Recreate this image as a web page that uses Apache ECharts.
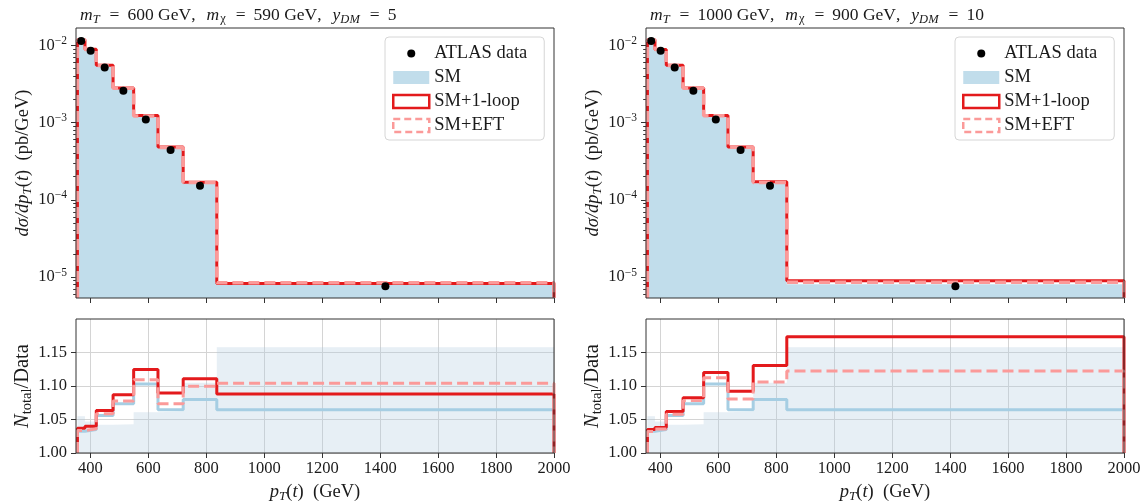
<!DOCTYPE html>
<html><head><meta charset="utf-8">
<script src="https://cdn.jsdelivr.net/npm/echarts@6/dist/echarts.min.js"></script>
<style>html,body{margin:0;padding:0;background:#fff}#c{width:1144px;height:504px}</style>
</head><body><div id="c"></div>
<script>
// ---------------- data ----------------
const binEdges = [355, 381, 420, 478, 549, 633, 720, 836, 2000];
const atlasData = [0.0114, 0.00854, 0.00519, 0.00259, 0.00110, 0.000443, 0.000152, 7.6e-6];
const smPred    = [0.01177, 0.008839, 0.005481, 0.002780, 0.001213, 0.0004716, 0.0001642, 8.09e-6];
const loopPredL = [0.01182, 0.008882, 0.005520, 0.002815, 0.001237, 0.0004826, 0.0001689, 8.27e-6];
const eftPredL  = [0.01178, 0.008847, 0.005494, 0.002791, 0.001220, 0.0004756, 0.0001671, 8.40e-6];
const loopPredR = [0.01180, 0.008865, 0.005512, 0.002804, 0.001232, 0.0004838, 0.0001718, 8.92e-6];
const eftPredR  = [0.01176, 0.008847, 0.005491, 0.002793, 0.001224, 0.0004787, 0.0001681, 8.54e-6];
const smRatio    = [1.0325, 1.035, 1.056, 1.0735, 1.103, 1.0645, 1.080, 1.0645];
const loopRatioL = [1.037, 1.040, 1.0635, 1.087, 1.1245, 1.0895, 1.111, 1.088];
const eftRatioL  = [1.0335, 1.036, 1.0585, 1.0775, 1.1095, 1.0735, 1.0995, 1.104];
const loopRatioR = [1.035, 1.038, 1.062, 1.0825, 1.120, 1.092, 1.1305, 1.1735];
const eftRatioR  = [1.032, 1.036, 1.058, 1.0785, 1.1125, 1.0805, 1.106, 1.1225];
const dataErrUpper = [1.055, 1.047, 1.042, 1.043, 1.061, 1.062, 1.105, 1.158];
const xTicks = [400, 600, 800, 1000, 1200, 1400, 1600, 1800, 2000];
const yMajorTicks = [1e-5, 1e-4, 1e-3, 1e-2];
const yMinorTicks = [6e-6, 7e-6, 8e-6, 9e-6,
  2e-5, 3e-5, 4e-5, 5e-5, 6e-5, 7e-5, 8e-5, 9e-5,
  2e-4, 3e-4, 4e-4, 5e-4, 6e-4, 7e-4, 8e-4, 9e-4,
  2e-3, 3e-3, 4e-3, 5e-3, 6e-3, 7e-3, 8e-3, 9e-3];
const ratioTicks = [1.00, 1.05, 1.10, 1.15];
const panelTitles = [
  '{i|m}{si|T}{e|=}{r|600 GeV}{c|,}{i|m}{sg|χ}{e|=}{r|590 GeV}{c|,}{i|y}{si|DM}{e|=}{r|5}',
  '{i|m}{si|T}{e|=}{r|1000 GeV}{c|,}{i|m}{sg|χ}{e|=}{r|900 GeV}{c|,}{i|y}{si|DM}{e|=}{r|10}'
];
const legendNames = ['ATLAS data', 'SM', 'SM+1-loop', 'SM+EFT'];

// ---------------- style ----------------
const FONT = "'Liberation Serif','DejaVu Serif',serif";
const TXT = '#1a1a1a', FRAME = '#333';
const RED = '#e31a1c', PINK = '#fb9a99', BLUE = '#a6cee3';
const SM_FILL = 'rgba(166,206,227,0.7)', BAND = 'rgba(175,203,222,0.3)';
const Y_LOG_MIN = 5.35e-6, Y_LOG_MAX = 0.0168, X_MIN = 350, X_MAX = 2000;
const FS = 16.5, FL = 18.5, FT = 17.5;

function txt(size, extra) {
  return Object.assign({fontFamily: FONT, fontSize: size, fontWeight: 'normal', color: TXT}, extra || {});
}
const rich = {
  i: txt(FL, {fontStyle: 'italic'}),
  r: txt(FL),
  si: txt(13, {fontStyle: 'italic', padding: [8, 0, 0, 0]}),
  sr: txt(13, {padding: [8, 0, 0, 0]}),
  b: txt(FS),
  s: txt(11.5, {padding: [0, 0, 9, 0]})
};
const richRatio = {
  i: txt(20.5, {fontStyle: 'italic'}),
  r: txt(20.5),
  sr: txt(14.5, {padding: [9, 0, 0, 0]})
};
const richTitle = {
  i: txt(FT, {fontStyle: 'italic'}),
  r: txt(FT),
  e: txt(FT, {padding: [0, 8, 0, 10]}),
  c: txt(FT, {padding: [0, 11, 0, 0]}),
  si: txt(12.5, {fontStyle: 'italic', padding: [8, 0, 0, 0]}),
  sg: txt(12.5, {padding: [7, 0, 0, 1]})
};

function stairs(vals, base) {
  const pts = [];
  const n = vals.length;
  if (base !== undefined) pts.push([binEdges[0], base]);
  for (let i = 0; i < n; i++) {
    pts.push([binEdges[i], vals[i]]);
    pts.push([binEdges[i + 1], vals[i]]);
  }
  if (base !== undefined) pts.push([binEdges[n], base]);
  return pts;
}
function centers(vals) {
  return vals.map((v, i) => [(binEdges[i] + binEdges[i + 1]) / 2, v]);
}

const grids = [], xAxes = [], yAxes = [], series = [], legends = [], titles = [];
const cols = [
  {left: 76, loop: loopPredL, eft: eftPredL, loopR: loopRatioL, eftR: eftRatioL},
  {left: 646, loop: loopPredR, eft: eftPredR, loopR: loopRatioR, eftR: eftRatioR}
];

cols.forEach((c, k) => {
  const gTop = grids.length;
  grids.push({left: c.left, top: 28, width: 478, height: 270, show: true, borderColor: FRAME, borderWidth: 1, backgroundColor: 'transparent', z: 10});
  grids.push({left: c.left, top: 319, width: 478, height: 135, show: true, borderColor: FRAME, borderWidth: 1, backgroundColor: 'transparent', z: 10});
  const gBot = gTop + 1;

  const xTop = xAxes.length;
  xAxes.push({gridIndex: gTop, type: 'value', min: X_MIN, max: X_MAX, position: 'bottom',
    axisLine: {show: false}, splitLine: {show: false},
    axisTick: {show: true, customValues: xTicks, length: 5, lineStyle: {color: FRAME}},
    axisLabel: {show: false}});
  const xBot = xAxes.length;
  xAxes.push({gridIndex: gBot, type: 'value', min: X_MIN, max: X_MAX, splitNumber: 8, position: 'bottom',
    axisLine: {show: false},
    splitLine: {show: true, lineStyle: {color: '#d4d4d4', width: 1}},
    axisTick: {show: true, customValues: xTicks, length: 5, lineStyle: {color: FRAME}},
    axisLabel: {customValues: xTicks, margin: 7, fontFamily: FONT, fontSize: FS, color: TXT,
      formatter: v => String(v)},
    name: '{i|p}{si|T}{r|(}{i|t}{r|)  (GeV)}', nameLocation: 'middle', nameGap: 29,
    nameTextStyle: {rich: rich}});

  const yTop = yAxes.length;
  yAxes.push({gridIndex: gTop, type: 'log', logBase: 10, min: Y_LOG_MIN, max: Y_LOG_MAX, position: 'left',
    axisLine: {show: false}, splitLine: {show: false}, minorTick: {show: false},
    axisTick: {show: true, customValues: yMajorTicks, length: 5, lineStyle: {color: FRAME}},
    axisLabel: {customValues: yMajorTicks, margin: 9,
      formatter: v => '{b|10}{s|−' + Math.round(-Math.log10(v)) + '}', rich: rich},
    name: '{i|dσ/dp}{si|T}{r|(}{i|t}{r|)  (pb/GeV)}', nameLocation: 'middle', nameGap: 42,
    nameTextStyle: {rich: rich}});
  yAxes.push({gridIndex: gTop, type: 'log', logBase: 10, min: Y_LOG_MIN, max: Y_LOG_MAX, position: 'left',
    axisLine: {show: false}, splitLine: {show: false}, minorTick: {show: false},
    axisTick: {show: true, customValues: yMinorTicks, length: 2.8, lineStyle: {color: FRAME}},
    axisLabel: {show: false}});
  const yBot = yAxes.length;
  yAxes.push({gridIndex: gBot, type: 'value', min: 1.0, max: 1.2, interval: 0.05, position: 'left',
    axisLine: {show: false},
    splitLine: {show: true, lineStyle: {color: '#d4d4d4', width: 1}},
    axisTick: {show: true, customValues: ratioTicks, length: 5, lineStyle: {color: FRAME}},
    axisLabel: {customValues: ratioTicks, margin: 9, fontFamily: FONT, fontSize: FS, color: TXT,
      formatter: v => v.toFixed(2)},
    name: '{i|N}{sr|total}{r|/Data}', nameLocation: 'middle', nameGap: 40,
    nameTextStyle: {rich: richRatio}});

  const lineBase = {type: 'line', showSymbol: false, symbol: 'none', silent: true, animation: false, clip: true};
  // top panel
  series.push(Object.assign({}, lineBase, {name: 'SM', xAxisIndex: xTop, yAxisIndex: yTop, z: 2,
    data: stairs(smPred), color: SM_FILL, lineStyle: {width: 0, color: SM_FILL},
    areaStyle: {color: SM_FILL, opacity: 1, origin: 'start'}}));
  series.push(Object.assign({}, lineBase, {name: 'SM+1-loop', xAxisIndex: xTop, yAxisIndex: yTop, z: 3,
    data: stairs(c.loop, Y_LOG_MIN), color: RED, lineStyle: {width: 3, color: RED}}));
  series.push(Object.assign({}, lineBase, {name: 'SM+EFT', xAxisIndex: xTop, yAxisIndex: yTop, z: 4,
    data: stairs(c.eft, Y_LOG_MIN), color: PINK, lineStyle: {width: 3.5, color: PINK, type: [11, 5]}}));
  series.push({type: 'scatter', name: 'ATLAS data', xAxisIndex: xTop, yAxisIndex: yTop, z: 5,
    data: centers(atlasData), symbolSize: 8, itemStyle: {color: '#000', opacity: 1}, silent: true, animation: false});
  // ratio panel
  series.push(Object.assign({}, lineBase, {name: 'band', xAxisIndex: xBot, yAxisIndex: yBot, z: 1,
    data: stairs(dataErrUpper), color: BAND, lineStyle: {width: 0, color: BAND},
    areaStyle: {color: BAND, opacity: 1, origin: 'start'}}));
  series.push(Object.assign({}, lineBase, {name: 'SM', xAxisIndex: xBot, yAxisIndex: yBot, z: 2,
    data: stairs(smRatio, 1.0), color: BLUE, lineStyle: {width: 3, color: BLUE}}));
  series.push(Object.assign({}, lineBase, {name: 'SM+1-loop', xAxisIndex: xBot, yAxisIndex: yBot, z: 3,
    data: stairs(c.loopR, 1.0), color: RED, lineStyle: {width: 3, color: RED}}));
  series.push(Object.assign({}, lineBase, {name: 'SM+EFT', xAxisIndex: xBot, yAxisIndex: yBot, z: 4,
    data: stairs(c.eftR, 1.0), color: PINK, lineStyle: {width: 3, color: PINK, type: [11, 5]}}));

  titles.push({text: panelTitles[k], left: c.left - 1, top: 0,
    textStyle: {rich: richTitle, fontFamily: FONT, fontSize: FT, fontWeight: 'normal'}});

  legends.push({
    left: c.left + 309, top: 37, orient: 'vertical', itemWidth: 36, itemHeight: 13, itemGap: 5,
    itemTextGap: 13, padding: [7, 17, 5, 7], backgroundColor: 'rgba(255,255,255,0.85)',
    borderColor: '#d6d6d6', borderWidth: 1, borderRadius: 4, selectedMode: false,
    textStyle: {fontFamily: FONT, fontSize: FL, color: TXT, lineHeight: 16},
    data: [
      {name: legendNames[0], icon: 'path://M0,0M36,13M14,6.5A4,4,0,1,1,22,6.5A4,4,0,1,1,14,6.5Z',
        itemStyle: {color: '#000', borderWidth: 0}},
      {name: legendNames[1], icon: 'rect', itemStyle: {color: SM_FILL, borderWidth: 0}},
      {name: legendNames[2], icon: 'rect', itemStyle: {color: '#fff', borderColor: RED, borderWidth: 2.5}},
      {name: legendNames[3], icon: 'rect', itemStyle: {color: '#fff', borderColor: PINK, borderWidth: 2.5, borderType: [7, 4]}}
    ]
  });
});

const chart = echarts.init(document.getElementById('c'), null, {renderer: 'canvas'});
chart.setOption({
  animation: false,
  backgroundColor: '#fff',
  title: titles,
  legend: legends,
  grid: grids,
  xAxis: xAxes,
  yAxis: yAxes,
  series: series
});
</script>
</body></html>
